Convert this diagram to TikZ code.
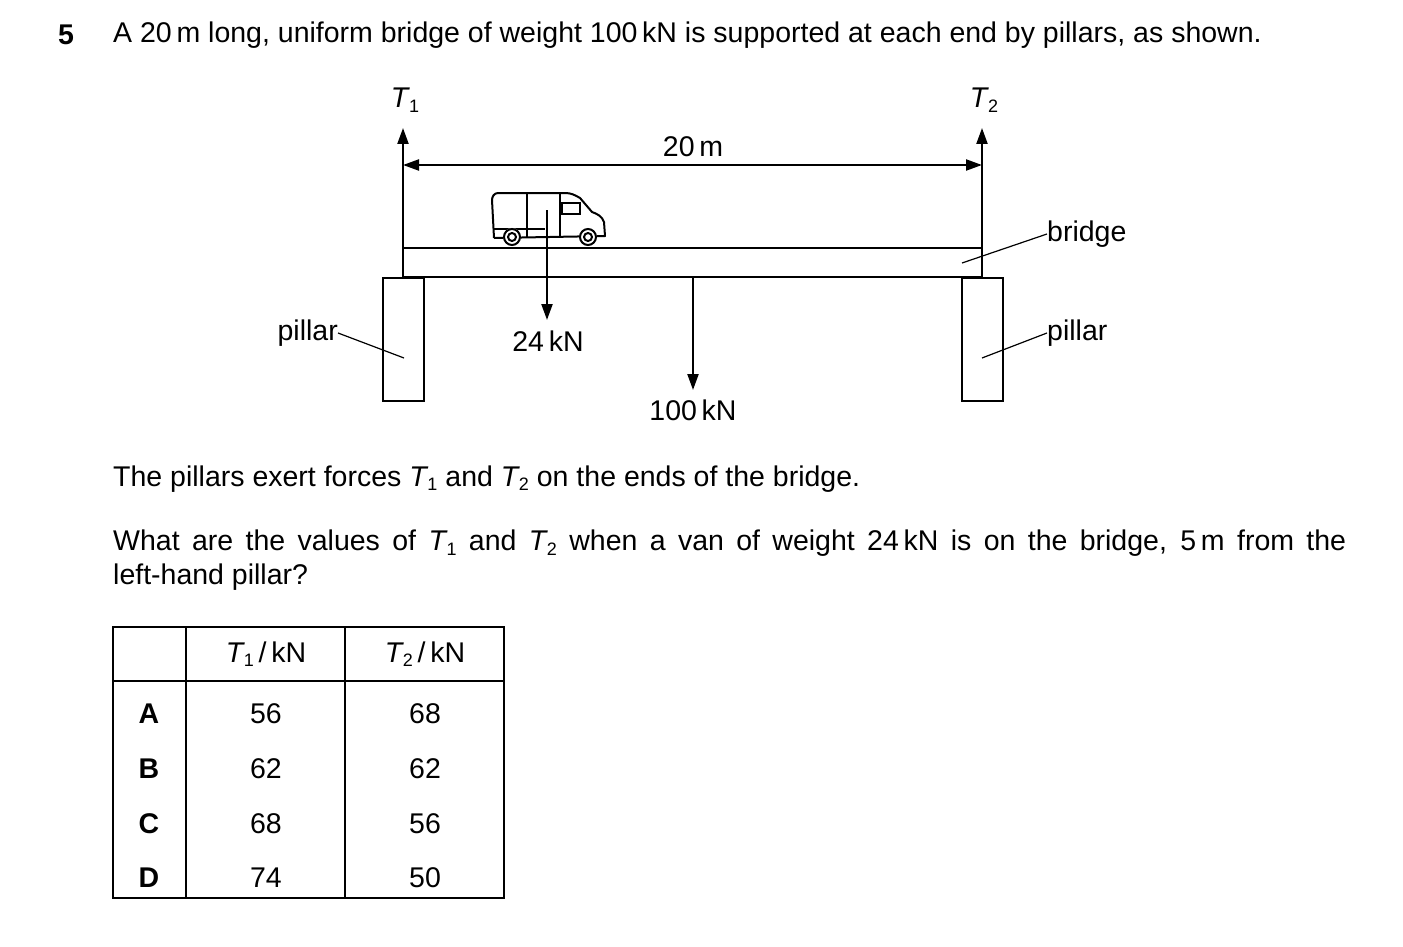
\documentclass[tikz,border=0pt]{standalone}
\usepackage{fontspec}
\setmainfont{Liberation Sans}
\usetikzlibrary{arrows.meta}
\newcommand{\Tsub}[1]{\textit{T}\kern-1pt\raisebox{-0.3ex}{\fontsize{18}{18}\selectfont #1}}
\begin{document}
\begin{tikzpicture}[x=1pt,y=-1pt,
  txt/.style={font=\fontsize{28.5}{34}\selectfont, inner sep=0pt},
  ln/.style={line width=2.3pt},
  thin/.style={line width=1.2pt},
  arr/.style={line width=2.2pt,-{Triangle[length=16pt,width=11pt]}},
  darr/.style={line width=2.2pt,{Triangle[length=16pt,width=11pt]}-{Triangle[length=16pt,width=11pt]}}]
\useasboundingbox (0,0) rectangle (1403,947);
\node[txt,font=\fontsize{28.5}{34}\selectfont\bfseries] (n5) at (66,35) {5};
\node[txt,anchor=west] (t1) at (113,35) {A 20\,m long, uniform bridge of weight 100\,kN is supported at each end by pillars, as shown.};
% bridge
\draw[ln] (403,248) rectangle (982,277);
\draw[ln] (383,278) rectangle (424,401);
\draw[ln] (962,278) rectangle (1003,401);
% forces
\coordinate (T1b) at (403,248); \coordinate (T1t) at (403,128);
\coordinate (T2b) at (982,248); \coordinate (T2t) at (982,128);
\draw[arr] (T1b) -- (T1t);
\draw[arr] (T2b) -- (T2t);
\node[txt] (lT1) at (405,100) {\Tsub{1}};
\node[txt] (lT2) at (984,100) {\Tsub{2}};
\coordinate (dL) at (403,165); \coordinate (dR) at (982,165);
\draw[darr] (dL) -- (dR);
\node[txt] (l20) at (693,147) {20\,m};
% van
\begin{scope}[line width=2pt]
\draw[line join=round] (494,238) -- (492,200) to[out=90,in=180] (498,193) -- (565,193) to[out=0,in=150] (580,198) -- (592,212) to[out=-20,in=110] (604,222) -- (605,236) -- (494,238);
\draw[thin] (527,193) -- (527,238);
\draw[thin] (560,193) -- (560,238);
\draw[thin] (494,229) -- (545,229);
\draw[thin] (562,203) rectangle (580,214);
\fill[white] (512,237) circle (9);
\fill[white] (588,237) circle (9);
\draw (512,237) circle (8); \draw (512,237) circle (4);
\draw (588,237) circle (8); \draw (588,237) circle (4);
\end{scope}
\coordinate (v) at (547,210); \coordinate (vb) at (547,320);
\draw[arr] (v) -- (vb);
\node[txt] (l24) at (548,341) {24\,kN};
\coordinate (w) at (693,277); \coordinate (wb) at (693,390);
\draw[arr] (w) -- (wb);
\node[txt] (l100) at (693,410) {100\,kN};
% labels
\node[txt,anchor=west] (lb) at (1047,234) {bridge};
\node[txt,anchor=west] (lp2) at (1047,333) {pillar};
\node[txt,anchor=east] (lp1) at (338,333) {pillar};
\coordinate (pb) at (962,263); \coordinate (pp2) at (982,358); \coordinate (pp1) at (404,358);
\draw[thin] (pb) -- (lb.west);
\draw[thin] (pp2) -- (lp2.west);
\draw[thin] (pp1) -- (lp1.east);
% text
\node[txt,anchor=west] (t2) at (113,479) {The pillars exert forces \Tsub{1} and \Tsub{2} on the ends of the bridge.};
\node[txt,anchor=north west,text width=1233pt,align=justify] (t3) at (113,530) {What are the values of \Tsub{1} and \Tsub{2} when a van of weight 24\,kN is on the bridge, 5\,m from the\linebreak left-hand pillar?};
% table
\draw[thin] (113,627) rectangle (504,898);
\draw[thin] (113,681) -- (504,681);
\draw[thin] (186,627) -- (186,898);
\draw[thin] (345,627) -- (345,898);
\node[txt] (h1) at (266,654) {\Tsub{1}\,/\,kN};
\node[txt] (h2) at (425,654) {\Tsub{2}\,/\,kN};
\foreach \r/\a/\b/\y in {A/56/68/714,B/62/62/769,C/68/56/824,D/74/50/878}{
  \node[txt,font=\fontsize{28.5}{34}\selectfont\bfseries] (r\r) at (149,\y) {\r};
  \node[txt] (a\r) at (266,\y) {\a};
  \node[txt] (b\r) at (425,\y) {\b};
}
\end{tikzpicture}
\end{document}
